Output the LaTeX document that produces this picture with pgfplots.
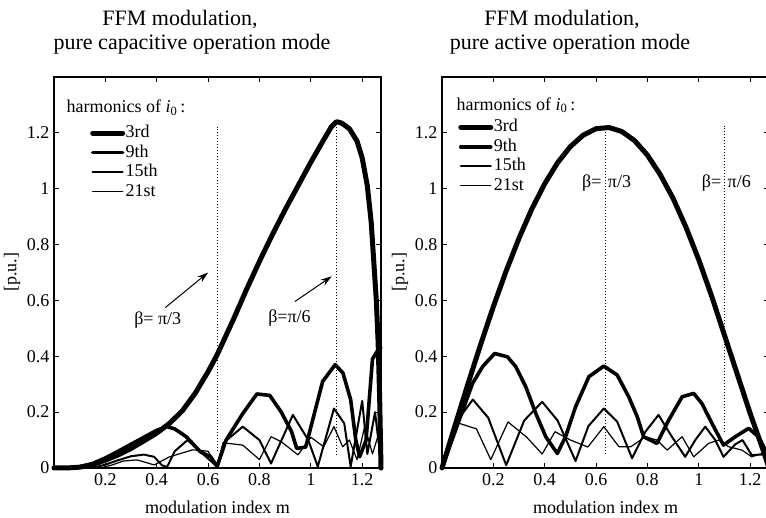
\documentclass[border=0pt]{standalone}
\usepackage{fontspec}
\setmainfont{Liberation Serif}
\usepackage{pgfplots}
\pgfplotsset{compat=1.18}
\usetikzlibrary{arrows.meta}
\newcommand\fs[1]{\fontsize{#1}{#1}\selectfont}
\begin{document}
\begin{tikzpicture}
\pgfplotsset{
  ffm/.style={
    scale only axis, width=327pt, height=391pt,
    xmin=0, xmax=1.2732, ymin=0, ymax=1.4,
    xtick={0.2,0.4,0.6,0.8,1,1.2}, xticklabels={0.2,0.4,0.6,0.8,1,1.2},
    ytick={0,0.2,0.4,0.6,0.8,1,1.2}, yticklabels={0,0.2,0.4,0.6,0.8,1,1.2},
    tick align=inside, major tick length=5pt,
    tick style={line width=0.9pt, black},
    axis line style={line width=1.3pt},
    ticklabel style={font=\fs{18}},
    xticklabel style={yshift=-2pt},
    yticklabel style={xshift=-1pt},
    xlabel={modulation index m}, ylabel={[p.u.]},
    every axis x label/.style={at={(axis description cs:0.5,0)}, yshift=-39pt, anchor=center, font=\fs{18}},
    every axis y label/.style={at={(axis description cs:0,0.5)}, xshift=-42pt, anchor=center, rotate=90, font=\fs{18}},
    clip=false,
    every axis plot/.append style={black, line join=round, line cap=round},
    legend style={draw=none, fill=none, font=\fs{18}, row sep=1.5pt, column sep=0pt,
      nodes={inner sep=0.5pt, text height=13pt, text depth=4pt}},
    legend cell align=left,
    legend image code/.code={\draw[#1] (0pt,0pt) -- (30pt,0pt);},
    h3/.style={line width=5pt},
    h9/.style={line width=3.6pt},
    h15/.style={line width=2pt},
    h21/.style={line width=1.2pt},
    dots/.style={line width=1pt, dash pattern=on 1pt off 2pt, line cap=butt},
  }
}
% ---------------- left: capacitive ----------------
\begin{axis}[ffm, at={(54pt,50pt)}, anchor=south west,
  legend style={at={(0.101,0.885)}, anchor=north west}]
\addplot[h3] coordinates {(0,0) (0.05,0) (0.1,0.003) (0.15,0.012) (0.2,0.028) (0.25,0.047) (0.3,0.07) (0.35,0.097) (0.4,0.125) (0.45,0.16) (0.5,0.205) (0.55,0.268) (0.6,0.345) (0.635,0.405) (0.7,0.535) (0.75,0.64) (0.8,0.74) (0.85,0.835) (0.9,0.925) (0.95,1.01) (1.0,1.095) (1.05,1.175) (1.08,1.222) (1.1,1.24) (1.12,1.235) (1.15,1.215) (1.18,1.17) (1.2,1.11) (1.22,1.01) (1.235,0.88) (1.245,0.74) (1.255,0.6) (1.262,0.45) (1.268,0.25) (1.2732,0)};
\addlegendentry{3rd}
\addplot[h9] coordinates {(0,0) (0.05,0) (0.1,0.004) (0.15,0.016) (0.2,0.036) (0.25,0.06) (0.3,0.085) (0.35,0.11) (0.4,0.135) (0.44,0.148) (0.47,0.14) (0.515,0.112) (0.57,0.058) (0.61,0.04) (0.635,0.005) (0.67,0.1) (0.735,0.195) (0.79,0.265) (0.84,0.26) (0.885,0.2) (0.925,0.13) (0.945,0.07) (0.98,0.075) (1.046,0.31) (1.095,0.37) (1.125,0.34) (1.155,0.245) (1.175,0.1) (1.19,0.04) (1.215,0.1) (1.24,0.39) (1.26,0.42) (1.2732,0.43)};
\addlegendentry{9th}
\addplot[h15] coordinates {(0,0) (0.15,0) (0.2,0.012) (0.25,0.028) (0.3,0.042) (0.35,0.048) (0.39,0.04) (0.42,0.01) (0.44,0.003) (0.47,0.06) (0.52,0.1) (0.58,0.05) (0.635,0.005) (0.66,0.09) (0.735,0.148) (0.8,0.1) (0.845,0.016) (0.93,0.19) (0.99,0.1) (1.027,0.005) (1.09,0.213) (1.13,0.16) (1.155,0.005) (1.2,0.24) (1.22,0.05) (1.25,0.2) (1.2732,0.02)};
\addlegendentry{15th}
\addplot[h21] coordinates {(0,0) (0.18,0) (0.227,0.011) (0.27,0.025) (0.324,0.029) (0.39,0.011) (0.45,0.04) (0.54,0.065) (0.6,0.06) (0.635,0.005) (0.66,0.09) (0.735,0.082) (0.8,0.03) (0.845,0.112) (0.885,0.094) (0.95,0.047) (1.0,0.11) (1.05,0.076) (1.09,0.148) (1.124,0.076) (1.15,0.1) (1.18,0.03) (1.21,0.15) (1.24,0.05) (1.2732,0.15)};
\addlegendentry{21st}
\addplot[dots, forget plot] coordinates {(0.635,0.06) (0.635,1.222)};
\addplot[dots, forget plot] coordinates {(1.1,0.045) (1.1,1.24)};
\node[font=\fs{18}, anchor=base west] at (axis description cs:0.028,0.908) {harmonics of \textit{i}\textsubscript{0}\,:};
\draw[line width=1pt, -{Stealth[length=11pt,width=7pt]}] (axis cs:0.433,0.574) -- (axis cs:0.600,0.700);
\draw[line width=1pt, -{Stealth[length=11pt,width=7pt]}] (axis cs:0.938,0.596) -- (axis cs:1.081,0.686);
\node[font=\fs{18}] at (axis cs:0.404,0.53) {β= π/3};
\node[font=\fs{18}] at (axis cs:0.917,0.537) {β=π/6};
\end{axis}
% ---------------- right: active ----------------
\begin{axis}[ffm, at={(442pt,50pt)}, anchor=south west,
  legend style={at={(0.04,0.9)}, anchor=north west}]
\addplot[h3] coordinates {(0,0) (0.05,0.15) (0.1,0.298) (0.15,0.441) (0.2,0.578) (0.25,0.706) (0.3,0.823) (0.35,0.928) (0.4,1.018) (0.45,1.093) (0.5,1.151) (0.55,1.192) (0.6,1.215) (0.65,1.219) (0.7,1.205) (0.75,1.172) (0.8,1.12) (0.85,1.05) (0.9,0.965) (0.95,0.862) (1.0,0.745) (1.05,0.615) (1.1,0.475) (1.15,0.335) (1.2,0.195) (1.25,0.065) (1.2732,0)};
\addlegendentry{3rd}
\addplot[h9] coordinates {(0,0) (0.067,0.172) (0.119,0.303) (0.158,0.363) (0.205,0.41) (0.255,0.398) (0.287,0.363) (0.326,0.291) (0.365,0.196) (0.404,0.112) (0.449,0.052) (0.481,0.112) (0.52,0.219) (0.572,0.327) (0.63,0.365) (0.682,0.333) (0.727,0.255) (0.76,0.184) (0.785,0.112) (0.837,0.088) (0.883,0.172) (0.935,0.255) (0.98,0.267) (1.012,0.231) (1.051,0.16) (1.096,0.082) (1.142,0.112) (1.194,0.142) (1.232,0.112) (1.2732,0.04)};
\addlegendentry{9th}
\addplot[h15] coordinates {(0,0) (0.06,0.17) (0.12,0.245) (0.18,0.18) (0.25,0.01) (0.32,0.17) (0.39,0.237) (0.45,0.17) (0.52,0.025) (0.57,0.15) (0.63,0.213) (0.682,0.166) (0.74,0.035) (0.792,0.13) (0.843,0.19) (0.895,0.112) (0.947,0.04) (0.986,0.1) (1.025,0.148) (1.064,0.1) (1.096,0.04) (1.142,0.085) (1.17,0.1) (1.206,0.046) (1.2732,0.05)};
\addlegendentry{15th}
\addplot[h21] coordinates {(0,0) (0.05,0.165) (0.134,0.14) (0.19,0.03) (0.257,0.165) (0.33,0.11) (0.39,0.05) (0.44,0.13) (0.5,0.1) (0.568,0.075) (0.63,0.148) (0.689,0.076) (0.735,0.076) (0.792,0.112) (0.837,0.1) (0.877,0.064) (0.935,0.112) (0.98,0.04) (1.038,0.088) (1.077,0.1) (1.116,0.076) (1.168,0.064) (1.206,0.04) (1.2732,0.06)};
\addlegendentry{21st}
\addplot[dots, forget plot] coordinates {(0.635,0.05) (0.635,1.225)};
\addplot[dots, forget plot] coordinates {(1.1,0.128) (1.1,1.225)};
\node[font=\fs{18}, anchor=base west] at (axis description cs:0.034,0.915) {harmonics of \textit{i}\textsubscript{0}\,:};
\node[font=\fs{18}] at (axis cs:0.641,1.02) {β= \hspace{2pt}π/3};
\node[font=\fs{18}] at (axis cs:1.107,1.02) {β= \hspace{2pt}π/6};
\end{axis}
% titles
\node[font=\fs{22}, anchor=base, inner sep=0pt] at (180pt,492pt) {FFM modulation,};
\node[font=\fs{22}, anchor=base, inner sep=0pt] at (192pt,468pt) {pure capacitive operation mode};
\node[font=\fs{22}, anchor=base, inner sep=0pt] at (562pt,492pt) {FFM modulation,};
\node[font=\fs{22}, anchor=base, inner sep=0pt] at (570pt,468pt) {pure active operation mode};
\pgfresetboundingbox
\path[use as bounding box] (0pt,0pt) rectangle (766pt,518pt);
\end{tikzpicture}
\end{document}
